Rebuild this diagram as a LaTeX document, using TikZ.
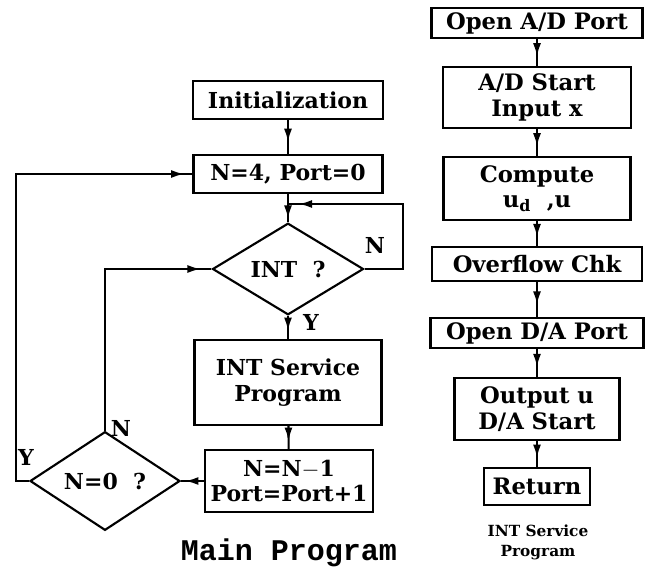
\documentclass[tikz,border=0pt]{standalone}
\usepackage{fontspec}
\setmainfont{DejaVu Serif}
\newfontfamily\titlefont{Liberation Mono}
\usetikzlibrary{arrows.meta,shapes.geometric,decorations.markings}

\begin{document}
\begin{tikzpicture}[x=0.75pt,y=-0.75pt,line width=1.6pt,
  box/.style={draw,rectangle,inner sep=0pt,align=center,
    font=\bfseries\fontsize{16.5}{19}\selectfont},
  rbox/.style={box,font=\bfseries\fontsize{17}{19}\selectfont},
  dia/.style={draw,diamond,inner sep=0pt,
    font=\bfseries\fontsize{16.5}{19}\selectfont},
  lab/.style={inner sep=0pt,font=\bfseries\fontsize{16.5}{19}\selectfont},
  flow/.style={postaction={decorate},decoration={markings,
    mark=at position #1 with {\arrow{Latex[length=10pt,width=6pt]}}}},
  flow/.default=0.65]
\useasboundingbox (0,0) rectangle (666,570);

% main program
\node[box,minimum width=142.5pt,minimum height=28.5pt] (init) at (288,100) {Initialization};
\node[box,minimum width=141.75pt,minimum height=28.5pt] (n4) at (288,174) {N=4,\ Port=0};
\node[dia,minimum width=113.25pt,minimum height=54.75pt] (intq) at (288,269) {INT\ \ ?};
\node[box,minimum width=140.25pt,minimum height=63.75pt] (svc) at (288,382.5) {INT Service\\Program};
\node[box,minimum width=126pt,minimum height=46.5pt] (dec) at (289,481) {N=N$-$1\\Port=Port+1};
\node[dia,minimum width=112.5pt,minimum height=55.5pt] (nz) at (105,481) {N=0\ \ ?};

\coordinate (r1) at (403,204);
\coordinate (j1) at (288,204);
\coordinate (l1) at (16,481);

\draw[flow] (init) -- (n4);
\draw[flow=0.88] (n4) -- (intq);
\draw[flow] (intq) -- (svc);
\draw[flow] (svc) -- (dec);
\draw[flow=-3pt] (dec.west) -- (nz.east);
\draw[flow=-8pt] (intq.east) -| (r1) -- (j1);
\draw[flow=-8pt] (nz.north) |- (intq.west);
\draw[flow=-6pt] (nz.west) -- (l1) |- (n4.west);

\node[lab] (ly1) at (311,322) {Y};
\node[lab] (ln1) at (375,245) {N};
\node[lab] (ln2) at (121,428) {N};
\node[lab] (ly2) at (26,457) {Y};

\node[font=\titlefont\bfseries\fontsize{22.5}{24}\selectfont] (mt) at (289,553) {Main Program};

% interrupt service routine
\node[rbox,minimum width=158.25pt,minimum height=22.5pt] (oad) at (537,23) {Open A/D Port};
\node[rbox,minimum width=141pt,minimum height=45.75pt] (ads) at (537,97.5) {A/D Start\\Input x};
\node[rbox,minimum width=140.25pt,minimum height=47.25pt] (cmp) at (537,188.5) {Compute\\u\textsubscript{d}\ \ ,u};
\node[rbox,minimum width=157.5pt,minimum height=25.5pt] (ovf) at (537,264) {Overflow Chk};
\node[rbox,minimum width=159.75pt,minimum height=22.5pt] (oda) at (537,333) {Open D/A Port};
\node[rbox,minimum width=123.75pt,minimum height=46.5pt] (out) at (537,409) {Output u\\D/A Start};
\node[rbox,minimum width=79.5pt,minimum height=27.75pt] (ret) at (537,486.5) {Return};

\draw[flow] (oad) -- (ads);
\draw[flow] (ads) -- (cmp);
\draw[flow] (cmp) -- (ovf);
\draw[flow] (ovf) -- (oda);
\draw[flow] (oda) -- (out);
\draw[flow] (out) -- (ret);

\node[align=center,font=\bfseries\fontsize{11.5}{15}\selectfont] (st) at (538,542) {INT Service\\Program};
\end{tikzpicture}
\end{document}
